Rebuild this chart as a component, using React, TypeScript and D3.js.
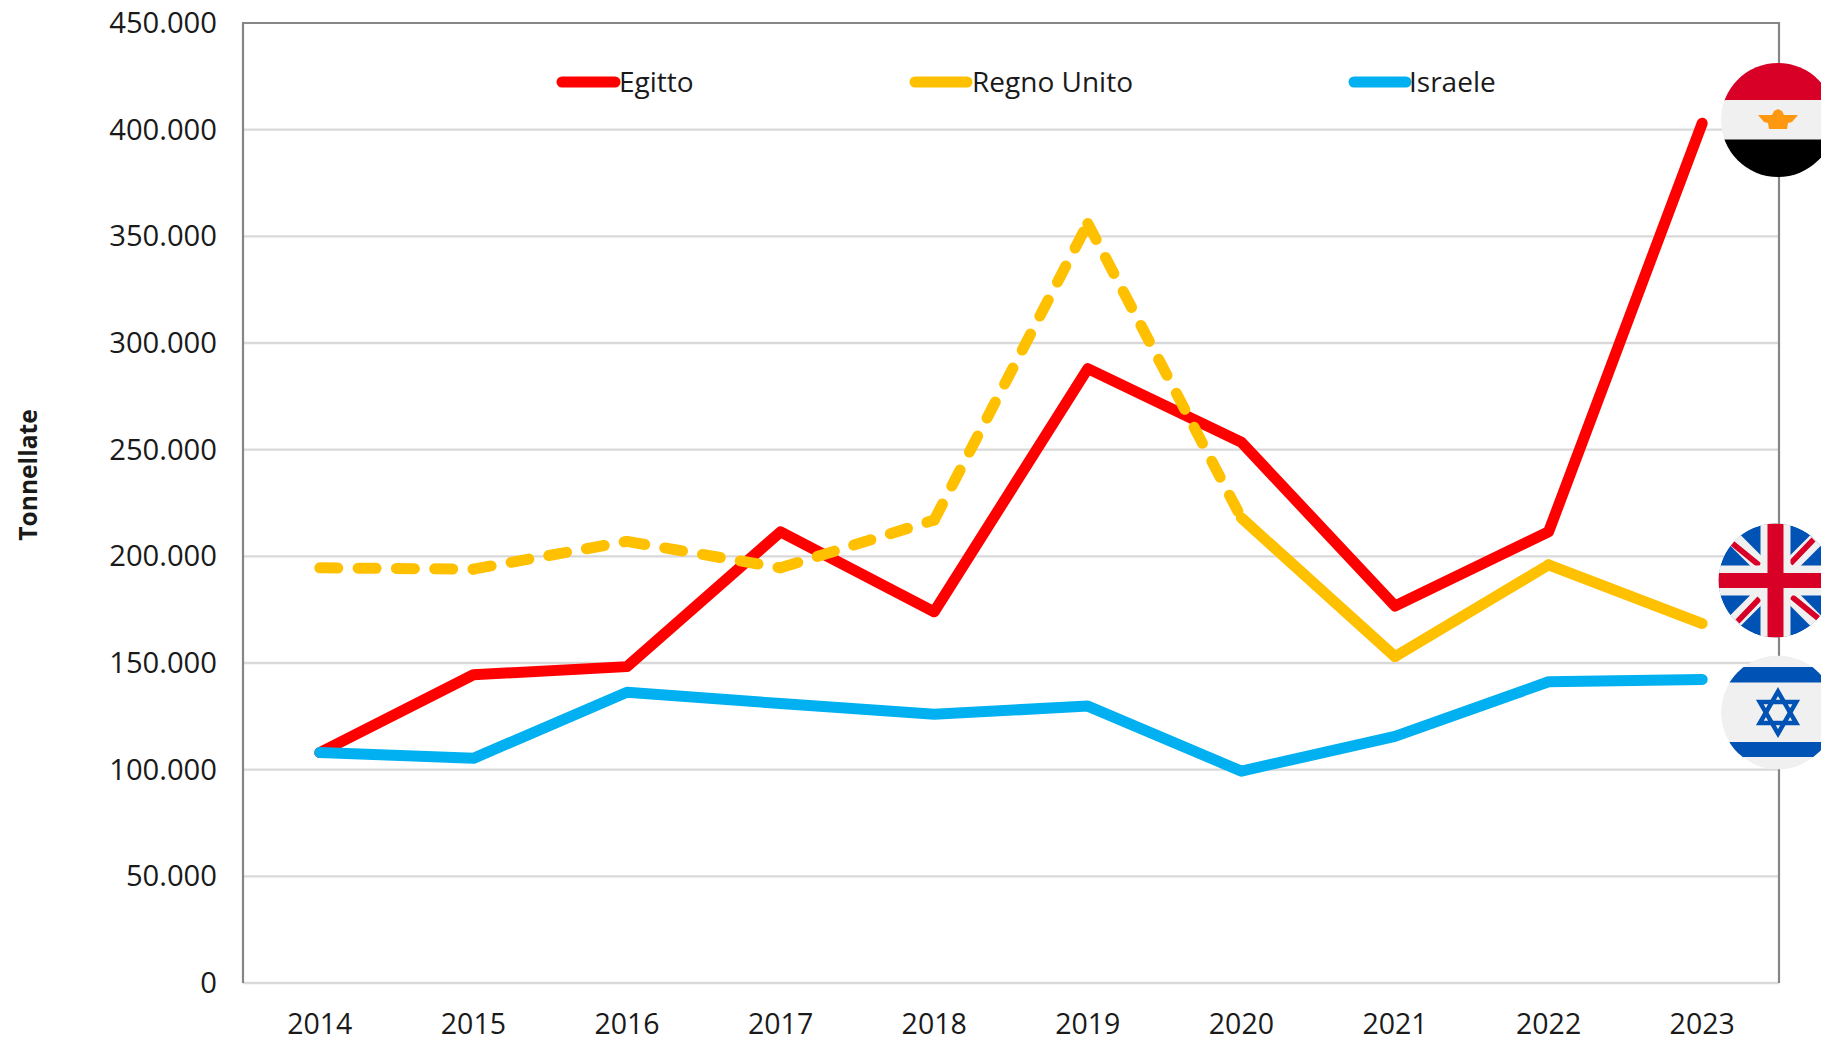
import { useEffect, useRef } from "react";
import * as d3 from "d3";

const years = ["2014", "2015", "2016", "2017", "2018", "2019", "2020", "2021", "2022", "2023"];
const egitto = [108000, 144500, 148300, 211500, 174000, 288000, 253500, 176700, 211500, 403000];
const regnoUnito = [194600, 194000, 207000, 194600, 217000, 356000, 218000, 153000, 196000, 168500];
const israele = [108000, 105300, 136300, 131000, 126000, 129800, 99300, 115600, 141200, 142300];
const yTicks = [0, 50000, 100000, 150000, 200000, 250000, 300000, 350000, 400000, 450000];

const width = 1821;
const height = 1039;
const left = 243;
const right = 1779;
const top = 23;
const bottom = 983;
const fontFamily = "'Open Sans', sans-serif";

const red = "#ff0000";
const gold = "#ffc000";
const blue = "#00b0f0";
const flagRed = "#d80027";
const flagBlue = "#0052b4";
const flagWhite = "#f0f0f0";

const x = d3.scaleBand().domain(years).range([left, right]);
const y = d3.scaleLinear().domain([0, 450000]).range([bottom, top]);
const xPos = (year: string) => (x(year) as number) + x.bandwidth() / 2;

const line = d3
  .line<number>()
  .x((_, i) => xPos(years[i]))
  .y((v) => y(v));

// excel restarts the dash on every segment, so the dashed part is drawn piece by piece
const segment = (values: number[], i: number) =>
  d3
    .line<number>()
    .x((_, k) => xPos(years[i + k]))
    .y((v) => y(v))(values.slice(i, i + 2)) as string;

const legendItems = [
  { label: "Egitto", color: red, x0: 562, x1: 615, tx: 619 },
  { label: "Regno Unito", color: gold, x0: 915, x1: 967, tx: 972 },
  { label: "Israele", color: blue, x0: 1354, x1: 1406, tx: 1409 },
];

const triangle = (r: number, flip: number) =>
  d3
    .range(3)
    .map((i) => {
      const a = -Math.PI / 2 + (i * 2 * Math.PI) / 3;
      return `${r * Math.cos(a)},${flip * r * Math.sin(a)}`;
    })
    .join(" ");

const EgyptFlag = () => (
  <g transform="translate(1778,120)">
    <clipPath id="clip-eg">
      <circle r={57} />
    </clipPath>
    <g clipPath="url(#clip-eg)">
      <rect x={-57} y={-57} width={114} height={38} fill={flagRed} />
      <rect x={-57} y={-20} width={114} height={40} fill={flagWhite} />
      <rect x={-57} y={19.5} width={114} height={38} fill="#000" />
      <path
        d="M-20,-5 L-6,-5 L-4,-9 L0,-11 L4,-9 L6,-5 L20,-5 L14,2 L10,3 L9,9 L-9,9 L-10,3 L-14,2 Z"
        fill="#ff9811"
      />
    </g>
  </g>
);

const UkFlag = () => (
  <g transform="translate(1775.5,580.5)">
    <clipPath id="clip-uk">
      <circle r={57} />
    </clipPath>
    <g clipPath="url(#clip-uk)">
      <circle r={57} fill={flagBlue} />
      <path d="M-57,-57 L57,57 M-57,57 L57,-57" stroke={flagWhite} strokeWidth={15} />
      <path
        d="M-43,-37 L-16,-15 M38,-41 L15,-17 M-38,41 L-16,18 M43,38 L16,16"
        stroke={flagRed}
        strokeWidth={5.5}
      />
      <rect x={-15} y={-57} width={30} height={114} fill={flagWhite} />
      <rect x={-57} y={-15} width={114} height={30} fill={flagWhite} />
      <rect x={-8} y={-57} width={16} height={114} fill={flagRed} />
      <rect x={-57} y={-7.5} width={114} height={15} fill={flagRed} />
    </g>
  </g>
);

const IsraelFlag = () => (
  <g transform="translate(1778,712.5)">
    <clipPath id="clip-il">
      <circle r={57} />
    </clipPath>
    <g clipPath="url(#clip-il)">
      <circle r={57} fill={flagWhite} />
      <rect x={-57} y={-45.5} width={114} height={15.5} fill={flagBlue} />
      <rect x={-57} y={29.5} width={114} height={15} fill={flagBlue} />
      <polygon points={triangle(21, 1)} fill="none" stroke={flagBlue} strokeWidth={4.5} />
      <polygon points={triangle(21, -1)} fill="none" stroke={flagBlue} strokeWidth={4.5} />
    </g>
  </g>
);

export default function App() {
  const yAxisRef = useRef<SVGGElement>(null);
  const xAxisRef = useRef<SVGGElement>(null);

  useEffect(() => {
    const yAxis = d3
      .axisLeft(y)
      .tickValues(yTicks)
      .tickSize(0)
      .tickPadding(26)
      .tickFormat((d) => d3.format(",")(d as number).replace(/,/g, "."));
    const yG = d3.select(yAxisRef.current).call(yAxis as any);
    yG.select(".domain").remove();
    yG.selectAll("text")
      .attr("font-family", fontFamily)
      .attr("font-size", 29.2)
      .attr("fill", "#1a1a1a");

    const xAxis = d3.axisBottom(x).tickSize(0).tickPadding(31);
    const xG = d3.select(xAxisRef.current).call(xAxis as any);
    xG.select(".domain").remove();
    xG.selectAll("text")
      .attr("font-family", fontFamily)
      .attr("font-size", 28.5)
      .attr("fill", "#1a1a1a");
  }, []);

  return (
    <svg
      width={width}
      height={height}
      viewBox={`0 0 ${width} ${height}`}
      style={{ position: "fixed", left: 0, top: 0, background: "#fff" }}
    >
      {yTicks.slice(1, -1).map((t) => (
        <line key={t} x1={left} x2={right} y1={y(t)} y2={y(t)} stroke="#d9d9d9" strokeWidth={2.4} />
      ))}
      <line x1={left} x2={right} y1={bottom} y2={bottom} stroke="#d9d9d9" strokeWidth={2.4} />
      <path
        d={`M${left},${bottom}V${top}H${right}V${bottom}`}
        fill="none"
        stroke="#868686"
        strokeWidth={2.2}
      />
      <g ref={yAxisRef} transform={`translate(${left},0)`} />
      <g ref={xAxisRef} transform={`translate(0,${bottom})`} />

      <g fill="none" strokeLinecap="round" strokeLinejoin="round" strokeWidth={11}>
        <path d={line(egitto) as string} stroke={red} />
        {years.slice(0, -1).map((yr, i) => (
          <path
            key={yr}
            d={segment(regnoUnito, i)}
            stroke={gold}
            strokeDasharray={i < 6 ? "18 20.3" : undefined}
          />
        ))}
        <path d={line(israele) as string} stroke={blue} />
      </g>

      {legendItems.map((item) => (
        <g key={item.label}>
          <line
            x1={item.x0}
            x2={item.x1}
            y1={82}
            y2={82}
            stroke={item.color}
            strokeWidth={11}
            strokeLinecap="round"
          />
          <text x={item.tx} y={92} fontFamily={fontFamily} fontSize={28} fill="#1a1a1a">
            {item.label}
          </text>
        </g>
      ))}

      <text
        transform="translate(37,475) rotate(-90)"
        textAnchor="middle"
        fontFamily={fontFamily}
        fontSize={24.6}
        fontWeight={700}
        fill="#1a1a1a"
      >
        Tonnellate
      </text>

      <EgyptFlag />
      <UkFlag />
      <IsraelFlag />
    </svg>
  );
}
